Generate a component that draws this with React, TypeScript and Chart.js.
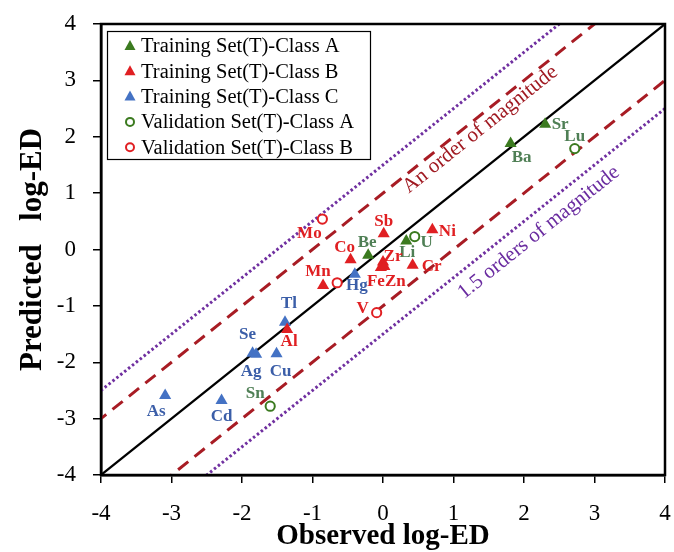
import React, { useEffect, useRef } from 'react';
import { Chart, registerables } from 'chart.js';
Chart.register(...registerables);

// ---------- data ----------
const trainANames = ['Sr', 'Ba', 'Be', 'Li'];
const trainAObs = [2.30, 1.81, -0.21, 0.33];
const trainAPred = [2.22, 1.88, -0.10, 0.15];

const trainBNames = ['Sb', 'Ni', 'Co', 'Zr', 'Fe', 'Zn', 'Cr', 'Mn', 'Al'];
const trainBObs = [0.01, 0.70, -0.46, 0.00, -0.03, 0.02, 0.42, -0.85, -1.36];
const trainBPred = [0.28, 0.35, -0.18, -0.22, -0.32, -0.30, -0.28, -0.64, -1.42];

const trainCNames = ['Hg', 'Tl', 'Se', 'Ag', 'Cu', 'As', 'Cd'];
const trainCObs = [-0.40, -1.39, -1.85, -1.80, -1.51, -3.09, -2.29];
const trainCPred = [-0.44, -1.29, -1.84, -1.86, -1.85, -2.59, -2.68];

const validANames = ['U', 'Lu', 'Sn'];
const validAObs = [0.45, 2.72, -1.60];
const validAPred = [0.23, 1.79, -2.78];

const validBNames = ['Mo', '', 'V'];
const validBObs = [-0.86, -0.65, -0.09];
const validBPred = [0.54, -0.59, -1.12];

const legendLabels = [
  'Training Set(T)-Class A',
  'Training Set(T)-Class B',
  'Training Set(T)-Class C',
  'Validation Set(T)-Class A',
  'Validation Set(T)-Class B',
];

const axisTicks = [-4, -3, -2, -1, 0, 1, 2, 3, 4];
const xTitle = 'Observed log-ED';
const yTitle = 'Predicted   log-ED';
const bandOffsets = [0, 1, -1, 1.5, -1.5];
const bandTexts = ['An order of magnitude', '1.5 orders of magnitude'];

// ---------- styles ----------
const SERIF = '"Liberation Serif", "Times New Roman", serif';
const GREEN = '#3b7a1f';
const RED = '#e01f22';
const BLUE = '#4472c4';
const GREEN_TXT = '#4f7f55';
const RED_TXT = '#e01f22';
const BLUE_TXT = '#3b5ea8';
const DASH_RED = '#a81c24';
const PURPLE = '#7030a0';

const labelOffsets: Record<string, [number, number]> = {
  Sr: [15, 0], Ba: [11, 14], Be: [-1, -13], Li: [1, 12],
  Sb: [0, -12], Ni: [15, 2], Co: [-6, -12], Zr: [10, -5], Fe: [-5, 14], Zn: [11, 15],
  Cr: [19, 1], Mn: [-5, -14], Al: [2, 12],
  Hg: [2, 11], Tl: [4, -19], Se: [-5, -19], Ag: [-5, 17], Cu: [4, 18], As: [-9, 16], Cd: [0, 16],
  U: [12, 6], Lu: [0, -12], Sn: [-15, -13],
  Mo: [-13, 15], V: [-14, -4],
};

const toPts = (xs: number[], ys: number[]) => xs.map((x, i) => ({ x, y: ys[i] }));

export default function App() {
  const ref = useRef<HTMLCanvasElement>(null);
  useEffect(() => {
    if (!ref.current) return;
    const seriesNames = [trainANames, trainBNames, trainCNames, validANames, validBNames];
    const seriesTxtColor = [GREEN_TXT, RED_TXT, BLUE_TXT, GREEN_TXT, RED_TXT];

    const pointSets = [
      { data: toPts(trainAObs, trainAPred), color: GREEN, style: 'triangle' },
      { data: toPts(trainBObs, trainBPred), color: RED, style: 'triangle' },
      { data: toPts(trainCObs, trainCPred), color: BLUE, style: 'triangle' },
      { data: toPts(validAObs, validAPred), color: GREEN, style: 'circle' },
      { data: toPts(validBObs, validBPred), color: RED, style: 'circle' },
    ];

    const lineStyles = [
      { color: '#000', width: 2.2, dash: [] as number[] },
      { color: DASH_RED, width: 3, dash: [13, 8] },
      { color: DASH_RED, width: 3, dash: [13, 8] },
      { color: PURPLE, width: 3, dash: [2.5, 2.5] },
      { color: PURPLE, width: 3, dash: [2.5, 2.5] },
    ];

    const datasets: any[] = [];
    pointSets.forEach((s, i) => {
      const tri = s.style === 'triangle';
      datasets.push({
        label: legendLabels[i],
        data: s.data,
        pointStyle: s.style,
        pointRadius: tri ? 7 : 4.6,
        backgroundColor: tri ? s.color : '#fff',
        borderColor: s.color,
        borderWidth: tri ? 0 : 2,
        showLine: false,
        order: 0,
      });
    });
    bandOffsets.forEach((off, i) => {
      datasets.push({
        label: 'ref' + i,
        data: [{ x: -5, y: -5 + off }, { x: 5, y: 5 + off }],
        showLine: true,
        pointRadius: 0,
        borderColor: lineStyles[i].color,
        borderWidth: lineStyles[i].width,
        borderDash: lineStyles[i].dash,
        fill: false,
        order: 10,
      });
    });

    const frame = {
      id: 'frame',
      afterDraw(chart: any) {
        const { ctx, chartArea: a } = chart;
        ctx.save();
        ctx.strokeStyle = '#000';
        ctx.lineWidth = 2.5;
        ctx.strokeRect(a.left, a.top, a.right - a.left, a.bottom - a.top);
        ctx.restore();
      },
    };

    const labelsPlugin = {
      id: 'ptlabels',
      afterDatasetsDraw(chart: any) {
        const { ctx } = chart;
        ctx.save();
        ctx.font = `bold 17px ${SERIF}`;
        ctx.textAlign = 'center';
        ctx.textBaseline = 'middle';
        for (let d = 0; d < 5; d++) {
          const meta = chart.getDatasetMeta(d);
          ctx.fillStyle = seriesTxtColor[d];
          seriesNames[d].forEach((name, i) => {
            if (!name) return;
            const el = meta.data[i];
            const off = labelOffsets[name] || [0, -12];
            ctx.fillText(name, el.x + off[0], el.y + off[1]);
          });
        }
        // band annotations
        const xs = chart.scales.x;
        const ys = chart.scales.y;
        const ang = Math.atan2(ys.getPixelForValue(4) - ys.getPixelForValue(-4), xs.getPixelForValue(4) - xs.getPixelForValue(-4));
        ctx.font = `21px ${SERIF}`;
        const spots = [
          { t: bandTexts[0], x: 1.38, y: 2.13, c: '#a01a22' },
          { t: bandTexts[1], x: 2.21, y: 0.30, c: '#6a2ca0' },
        ];
        spots.forEach((s) => {
          ctx.save();
          ctx.translate(xs.getPixelForValue(s.x), ys.getPixelForValue(s.y));
          ctx.rotate(ang);
          ctx.fillStyle = s.c;
          ctx.fillText(s.t, 0, 0);
          ctx.restore();
        });
        // legend
        const L = 107, T = 31, R = 370, B = 159;
        ctx.fillStyle = '#fff';
        ctx.fillRect(L, T, R - L, B - T);
        ctx.strokeStyle = '#000';
        ctx.lineWidth = 1.2;
        ctx.strokeRect(L + 0.5, T + 0.5, R - L, B - T);
        ctx.font = `20.5px ${SERIF}`;
        ctx.textAlign = 'left';
        ctx.textBaseline = 'middle';
        pointSets.forEach((s, i) => {
          const cy = 46 + i * 25.3;
          const cx = 130;
          ctx.fillStyle = s.color;
          ctx.strokeStyle = s.color;
          if (s.style === 'triangle') {
            ctx.beginPath();
            ctx.moveTo(cx, cy - 6);
            ctx.lineTo(cx + 5.5, cy + 4);
            ctx.lineTo(cx - 5.5, cy + 4);
            ctx.closePath();
            ctx.fill();
          } else {
            ctx.lineWidth = 2;
            ctx.beginPath();
            ctx.arc(cx, cy, 4, 0, Math.PI * 2);
            ctx.stroke();
          }
          ctx.fillStyle = '#000';
          ctx.fillText(legendLabels[i], 141, cy + 1);
        });
        ctx.restore();
      },
    };

    const tickFont = { family: SERIF, size: 23 };
    const chart = new Chart(ref.current, {
      type: 'scatter',
      data: { datasets },
      options: {
        responsive: false,
        animation: false,
        devicePixelRatio: 1,
        layout: { padding: { left: 0, right: 9, top: 24, bottom: 0 } },
        plugins: { legend: { display: false }, tooltip: { enabled: false } },
        scales: {
          x: {
            type: 'linear',
            min: -4,
            max: 4,
            afterBuildTicks: (s: any) => { s.ticks = axisTicks.map((v) => ({ value: v })); },
            afterFit: (s: any) => { s.height = 77; s.paddingLeft = 0; s.paddingRight = 0; },
            ticks: { font: tickFont, color: '#000', padding: 17, callback: (v: any) => String(v) },
            grid: { drawOnChartArea: false, drawTicks: true, tickLength: 8, color: '#000', lineWidth: 1.5 },
            border: { color: '#000', width: 2.5 },
            title: { display: true, text: xTitle, color: '#000', font: { family: SERIF, size: 29, weight: 'bold', lineHeight: 1 }, padding: { top: 0, bottom: 0.5 } },
          },
          y: {
            type: 'linear',
            min: -4,
            max: 4,
            afterBuildTicks: (s: any) => { s.ticks = axisTicks.map((v) => ({ value: v })); },
            afterFit: (s: any) => { s.width = 101; s.paddingTop = 0; s.paddingBottom = 0; },
            ticks: { font: tickFont, color: '#000', padding: 17, callback: (v: any) => String(v) },
            grid: { drawOnChartArea: false, drawTicks: true, tickLength: 8, color: '#000', lineWidth: 1.5 },
            border: { color: '#000', width: 2.5 },
            title: { display: true, text: yTitle, color: '#000', font: { family: SERIF, size: 31, weight: 'bold', lineHeight: 1 }, padding: { top: 17, bottom: 0 } },
          },
        },
      } as any,
      plugins: [frame, labelsPlugin],
    });
    return () => chart.destroy();
  }, []);

  return (
    <div style={{ width: 674, height: 552 }}>
      <style>{'body{margin:0;}'}</style>
      <canvas ref={ref} width={674} height={552} style={{ display: 'block' }} />
    </div>
  );
}
